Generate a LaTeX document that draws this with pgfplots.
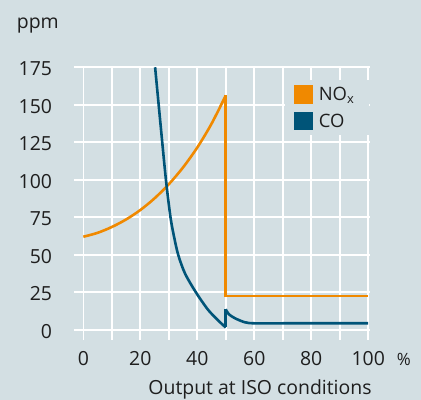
\documentclass[border=0pt]{standalone}
\usepackage{fontspec}
\setmainfont{Open Sans}
\usepackage{pgfplots}
\pgfplotsset{compat=1.18}
\definecolor{bg}{RGB}{211,223,227}
\definecolor{nox}{RGB}{240,137,0}
\definecolor{co}{RGB}{0,84,120}
\definecolor{txt}{RGB}{30,30,30}
\begin{document}
\begin{tikzpicture}[font=\fontsize{19.5}{22}\selectfont, text=txt]
\fill[bg] (-74.2bp,-60.5bp) rectangle (346.8bp,339.5bp);
\begin{axis}[
  at={(0,0)}, anchor=south west,
  scale only axis, width=296bp, height=273bp,
  xmin=-3.2, xmax=100.7, ymin=-6.5, ymax=175.5,
  axis line style={draw=none},
  major tick style={draw=none},
  grid=major,
  grid style={white, line width=1.6bp},
  xtick={0,10,...,100},
  xticklabels={0,,20,,40,,60,,80,,100},
  ytick={0,25,...,175},
  /pgf/number format/assume math mode=true,
  xticklabel style={anchor=base, inner sep=0pt, yshift=-25.5bp},
  yticklabel style={anchor=east, inner sep=0pt, xshift=-22bp, yshift=-1.5bp},
  tick label style={font=\fontsize{19.5}{22}\selectfont, text=txt},
  legend style={at={(0.712,0.9505)}, anchor=north west, draw=none, fill=bg,
    inner xsep=9bp, inner ysep=5bp, row sep=8bp,
    font=\fontsize{18.5}{20}\selectfont, text=txt,
    nodes={inner xsep=6bp, inner ysep=0pt}},
  legend cell align=left,
  legend image code/.code={\fill[#1] (0bp,-8bp) rectangle (16bp,8bp);},
]
\addplot[nox, line width=2.6bp, smooth] coordinates {
  (0,62) (5,64.6) (10,68.5) (15,73.5) (20,79.8) (25,87.6) (30,97.0)
  (35,108.2) (40,121.5) (45,137.3) (50,156.2)};
\addlegendentry{NO\textsubscript{x}}
\addplot[nox, line width=2.6bp, forget plot, line join=miter] coordinates {
  (50,156.2) (50,22.5) (100,22.5)};
\addplot[co, line width=2.6bp, smooth] coordinates {
  (25.2,175) (27.1,137) (29.0,100) (30.6,75) (31.8,62.5) (33.3,50)
  (35.7,37.5) (39.5,25) (43.3,14.5) (45.6,9.5) (48,5) (50,1.5)};
\addlegendentry{CO}
\addplot[co, line width=2.6bp, forget plot] coordinates {(50,1.5) (50,13.7)};
\addplot[co, line width=2.6bp, smooth, forget plot] coordinates {
  (50,13.7) (51,10.5) (53.2,7.7) (56.7,5.0) (60,4.3) (70,4.3) (100,4.3)};
\end{axis}
\node[anchor=base west, inner sep=0pt] at (-57.5bp,311bp) {ppm};
\node[anchor=base west, inner sep=0pt, font=\fontsize{17}{20}\selectfont] at (322.5bp,-25.5bp) {\%};
\node[anchor=base, inner sep=0pt] at (185.8bp,-55bp) {Output at ISO conditions};
\pgfresetboundingbox
\path[use as bounding box] (-74.2bp,-60.5bp) rectangle (346.8bp,339.5bp);
\end{tikzpicture}
\end{document}
